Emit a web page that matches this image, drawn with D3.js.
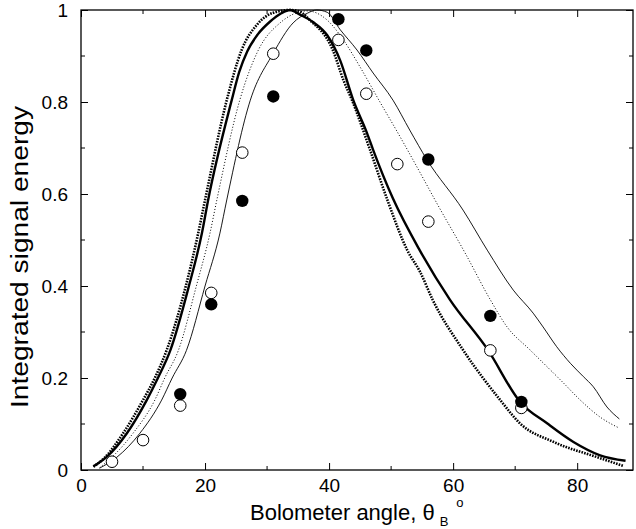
<!DOCTYPE html>
<meta charset="utf-8">
<style>
body { margin: 0; background: #fff; }
text { font-family: "Liberation Sans", Arial, sans-serif; fill: #000; }
.axis path { display: none; }
.axis line, .minor line { stroke: #000; stroke-width: 1; }
.axis text { font-size: 19px; }
.curve { fill: none; stroke: #000; }
</style>
<svg width="636" height="529"></svg>
<script src="https://d3js.org/d3.v7.min.js"></script>
<script>
// curves: [bolometer angle, integrated energy]
var thickDotted = [[2,0.007],[3.9,0.028],[6.8,0.08],[10,0.152],[11.9,0.2],[13.8,0.26],[16.9,0.4],[18.9,0.515],[20,0.587],
  [23.5,0.804],[25.9,0.913],[28.5,0.97],[31,0.994],[33.7,1.0],[35,0.998],[36.9,0.978],[40.6,0.913],[42.3,0.848],[43.7,0.804],
  [46.6,0.696],[49.4,0.587],[52.6,0.478],[54.7,0.43],[56.7,0.37],[61.6,0.261],[67.6,0.152],[70.8,0.101],[76.2,0.061],
  [83.2,0.028],[87.4,0.009]];
var thickSolid = [[2,0.008],[4.1,0.028],[7.4,0.08],[10.6,0.152],[12.4,0.2],[14.4,0.26],[17.4,0.4],[19.5,0.515],[20.5,0.587],
  [24.3,0.804],[25.5,0.865],[26.8,0.91],[28.5,0.947],[30.5,0.975],[32.3,0.993],[33.7,1.0],[35.3,0.99],[37.4,0.974],
  [39.7,0.945],[41.8,0.89],[43.9,0.804],[46.1,0.733],[47.1,0.696],[50.3,0.59],[54.6,0.478],[59.5,0.37],[65.6,0.261],
  [70.8,0.148],[75.2,0.101],[79.4,0.061],[83.7,0.032],[87.8,0.02]];
var thinDotted = [[3,0.005],[5,0.028],[8.4,0.08],[11.9,0.152],[13.5,0.2],[15.7,0.26],[18.6,0.4],[20.8,0.515],[21.9,0.587],
  [25.6,0.804],[28.6,0.913],[32.1,0.972],[36.5,0.998],[39.7,0.978],[42.3,0.935],[45,0.876],[48.2,0.8],[51,0.735],[53.5,0.675],
  [57.7,0.572],[62,0.47],[66,0.37],[68.7,0.311],[72.4,0.261],[77.8,0.189],[80.5,0.152],[83.7,0.115],[86.8,0.091]];
var thinSolid = [[3,0.004],[5.8,0.028],[9.5,0.08],[13,0.152],[14.7,0.2],[17,0.26],[20,0.4],[22.4,0.515],[23.5,0.587],
  [27.3,0.804],[31,0.906],[34.2,0.972],[36.5,0.993],[38,1.0],[39.7,0.995],[41.8,0.957],[44.5,0.913],[47.1,0.863],[50.3,0.804],
  [53,0.739],[55.8,0.674],[61.6,0.565],[65.5,0.478],[69.7,0.391],[72.9,0.341],[74.5,0.311],[76.7,0.268],
  [78.9,0.232],[81,0.203],[82.6,0.181],[84.8,0.137],[86.8,0.111]];

// measured points
var filledAngle = [16, 21, 26, 31, 41.5, 46, 56, 66, 71];
var filledEnergy = [0.165, 0.36, 0.585, 0.812, 0.98, 0.912, 0.675, 0.335, 0.148];
var openAngle = [5, 10, 16, 21, 26, 31, 41.5, 46, 51, 56, 66, 71];
var openEnergy = [0.018, 0.065, 0.14, 0.385, 0.69, 0.905, 0.935, 0.818, 0.665, 0.54, 0.26, 0.135];

var xTicks = [0, 20, 40, 60, 80],
    xMinor = [10, 30, 50, 70],
    yTicks = [0, 0.2, 0.4, 0.6, 0.8, 1],
    yMinor = [0.1, 0.3, 0.5, 0.7, 0.9];

var svg = d3.select("svg"),
    margin = {top: 10, right: 3, bottom: 59, left: 81},
    width = +svg.attr("width") - margin.left - margin.right,
    height = +svg.attr("height") - margin.top - margin.bottom;

var x = d3.scaleLinear().domain([0, 89]).range([0, width]),
    y = d3.scaleLinear().domain([0, 1]).range([height, 0]);

var g = svg.append("g")
    .attr("transform", "translate(" + margin.left + "," + margin.top + ")");

var fmt = function(d) { return (d === 0 || d === 1) ? d : d.toFixed(1); };

g.append("g").attr("class", "axis")
    .attr("transform", "translate(0," + height + ")")
    .call(d3.axisBottom(x).tickValues(xTicks).tickSize(-7).tickPadding(9));
g.append("g").attr("class", "axis")
    .call(d3.axisTop(x).tickValues(xTicks).tickSize(-7).tickFormat(""));
g.append("g").attr("class", "axis")
    .call(d3.axisLeft(y).tickValues(yTicks).tickSize(-7).tickPadding(13).tickFormat(fmt));
g.append("g").attr("class", "axis")
    .attr("transform", "translate(" + width + ",0)")
    .call(d3.axisRight(y).tickValues(yTicks).tickSize(-7).tickFormat(""));

// minor ticks
g.append("g").attr("class", "minor").selectAll("line.xb").data(xMinor).enter().append("line")
    .attr("x1", x).attr("x2", x).attr("y1", height).attr("y2", height - 4);
g.append("g").attr("class", "minor").selectAll("line.xt").data(xMinor).enter().append("line")
    .attr("x1", x).attr("x2", x).attr("y1", 0).attr("y2", 4);
g.append("g").attr("class", "minor").selectAll("line.yl").data(yMinor).enter().append("line")
    .attr("y1", y).attr("y2", y).attr("x1", 0).attr("x2", 4);
g.append("g").attr("class", "minor").selectAll("line.yr").data(yMinor).enter().append("line")
    .attr("y1", y).attr("y2", y).attr("x1", width).attr("x2", width - 4);

g.append("rect")
    .attr("width", width).attr("height", height)
    .attr("fill", "none").attr("stroke", "#000").attr("stroke-width", 1.3);

var line = d3.line()
    .curve(d3.curveMonotoneX)
    .x(function(d) { return x(d[0]); })
    .y(function(d) { return y(d[1]); });

g.append("path").datum(thinSolid).attr("class", "curve")
    .attr("stroke-width", 0.9).attr("d", line);
g.append("path").datum(thinDotted).attr("class", "curve")
    .attr("stroke-width", 1).attr("stroke-dasharray", "1,2").attr("d", line);
g.append("path").datum(thickSolid).attr("class", "curve")
    .attr("stroke-width", 2.4).attr("d", line);
g.append("path").datum(thickDotted).attr("class", "curve")
    .attr("stroke-width", 2.6).attr("stroke-dasharray", "1.6,1.2").attr("d", line);

g.selectAll("circle.open").data(openAngle).enter().append("circle")
    .attr("class", "open")
    .attr("cx", function(d) { return x(d); })
    .attr("cy", function(d, i) { return y(openEnergy[i]); })
    .attr("r", 5.8)
    .attr("fill", "#fff").attr("stroke", "#000").attr("stroke-width", 1);
g.selectAll("circle.filled").data(filledAngle).enter().append("circle")
    .attr("class", "filled")
    .attr("cx", function(d) { return x(d); })
    .attr("cy", function(d, i) { return y(filledEnergy[i]); })
    .attr("r", 6.2)
    .attr("fill", "#000");

// axis titles
var xt = svg.append("text")
    .attr("x", 250)
    .attr("y", 520)
    .attr("text-anchor", "start")
    .style("font-size", "22px");
xt.append("tspan").text("Bolometer angle, θ");
xt.append("tspan").attr("dy", 6).attr("dx", 5).style("font-size", "13px").text("B");
xt.append("tspan").attr("dy", -19).attr("dx", 8).style("font-size", "13px").text("o");

svg.append("text")
    .attr("transform", "translate(28,257) rotate(-90)")
    .attr("text-anchor", "middle")
    .attr("textLength", 302)
    .attr("lengthAdjust", "spacingAndGlyphs")
    .style("font-size", "23px")
    .text("Integrated signal energy");
</script>
